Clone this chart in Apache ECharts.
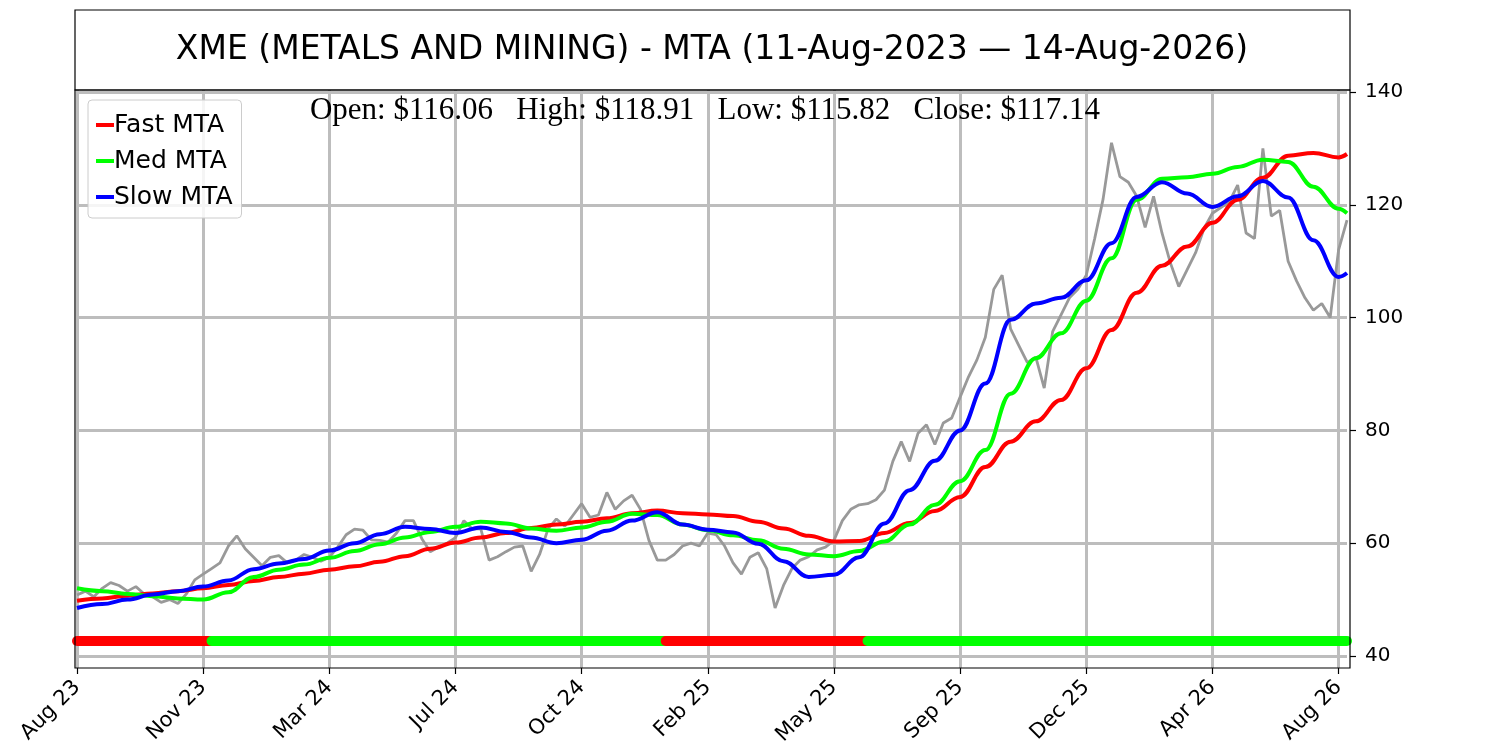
<!DOCTYPE html>
<html lang="en">
  <head>
    <meta charset="UTF-8" />
    <meta name="viewport" content="width=device-width, initial-scale=1.0" />
    <title>XME MTA</title>
    <style>
      html, body { margin: 0; padding: 0; background: #fff; }
      #main { width: 1500px; height: 750px; }
    </style>
  </head>
  <body>
    <div id="main"></div>
    <script src="https://cdn.jsdelivr.net/npm/echarts@6/dist/echarts.min.js"></script>
    <script>
      // weekly price, index 0 = 11-Aug-2023
      var price = [
        50.8, 51.5, 50.5, 52.0, 53.0, 52.5, 51.5, 52.3, 51.0, 50.5, 49.5, 50.0, 49.3, 51.0, 53.5,
        54.5, 55.5, 56.5, 59.5, 61.3, 59.0, 57.5, 56.0, 57.5, 57.8, 56.5, 57.0, 58.0, 57.5, 56.8,
        57.5, 59.3, 61.5, 62.5, 62.3, 60.6, 60.5, 60.2, 61.8, 64.0, 64.0, 60.8, 58.5, 59.3, 60.0,
        61.0, 64.0, 62.5, 62.6, 57.0, 57.6, 58.5, 59.3, 59.5, 55.0, 58.0, 62.5, 64.3, 63.0, 65.0,
        67.0, 64.6, 65.0, 69.0, 66.0, 67.5, 68.5, 66.0, 60.5, 57.0, 57.0, 58.0, 59.5, 60.0, 59.5,
        61.8, 61.5, 59.5, 56.5, 54.5, 57.5, 58.3, 55.5, 48.5, 52.5, 55.5, 57.0, 57.6, 58.8, 59.3,
        60.5, 64.0, 66.0, 66.8, 67.0, 67.7, 69.4, 74.5, 78.0, 74.5, 79.5, 81.0, 77.5, 81.3, 82.2,
        85.9, 89.5, 92.5, 96.5, 105.0, 107.5, 98.0, 95.0, 92.0, 93.0, 87.5, 97.5, 100.5, 103.5, 105.0,
        107.5, 114.0, 121.0, 131.0, 125.0, 124.0, 121.5, 116.0, 121.5, 115.0, 109.7, 105.5, 108.5, 111.5, 115.8,
        118.5, 119.5, 120.5, 123.5, 115.0, 114.0, 130.0, 118.0, 119.0, 110.0, 106.5, 103.5, 101.3, 102.5, 100.0,
        112.0, 117.3
      ];

      var tickLabels = ["Aug 23", "Nov 23", "Mar 24", "Jul 24", "Oct 24", "Feb 25",
                        "May 25", "Sep 25", "Dec 25", "Apr 26", "Aug 26"];
      var tickStep = 15; // weeks between date ticks
      var yTicks = [40, 60, 80, 100, 120, 140];

      // moving averages read every 3 weeks
      var mtaIdx = [0, 3, 6, 9, 12, 15, 18, 21, 24, 27, 30, 33, 36, 39, 42, 45, 48, 51, 54, 57,
                    60, 63, 66, 69, 72, 75, 78, 81, 84, 87, 90, 93, 96, 99, 102, 105, 108, 111, 114, 117,
                    120, 123, 126, 129, 132, 135, 138, 141, 144, 147, 150, 151];
      var fastMta = [49.8, 50.2, 50.7, 51.1, 51.5, 52.0, 52.6, 53.3, 54.0, 54.6, 55.3, 55.9, 56.7, 57.7, 59.0, 60.1, 61.0, 61.8, 62.7, 63.3,
                     63.8, 64.4, 65.3, 65.8, 65.3, 65.1, 64.8, 63.8, 62.6, 61.3, 60.3, 60.4, 61.8, 63.6, 65.7, 68.2, 73.5, 78.0, 81.6, 85.4,
                     91.0, 97.8, 104.4, 109.2, 112.6, 116.8, 120.9, 124.8, 128.7, 129.2, 128.4, 129.0];
      var medMta = [52.0, 51.5, 51.0, 50.6, 50.2, 50.0, 51.3, 54.0, 55.3, 56.2, 57.4, 58.6, 59.8, 61.0, 62.0, 62.9, 63.8, 63.5, 62.6, 62.2,
                    62.8, 63.8, 65.2, 65.0, 63.3, 62.3, 61.4, 60.5, 59.0, 58.0, 57.7, 58.6, 60.3, 63.3, 66.8, 71.0, 76.5, 86.5, 92.8, 97.2,
                    103.0, 110.5, 120.9, 124.6, 124.9, 125.5, 126.7, 128.0, 127.6, 123.2, 119.3, 118.5];
      var slowMta = [48.5, 49.2, 50.0, 50.9, 51.5, 52.3, 53.4, 55.4, 56.4, 57.2, 58.7, 60.0, 61.6, 62.9, 62.5, 61.8, 62.8, 62.0, 61.0, 60.0,
                     60.6, 62.2, 64.0, 65.5, 63.3, 62.4, 61.9, 59.9, 56.8, 54.0, 54.4, 57.5, 63.5, 69.4, 74.6, 80.0, 88.3, 99.6, 102.5, 103.5,
                     106.6, 113.2, 121.4, 124.0, 122.0, 119.6, 121.5, 124.2, 121.3, 113.7, 107.2, 107.9];

      // trend signal strip: [start week, end week, state]
      var signalLevel = 42.66;
      var signalRuns = [[0, 16, "down"], [16, 70, "up"], [70, 94, "down"], [94, 151, "up"]];

      var weeks = price.map(function (v, i) { return i; });
      function pairs(vals) {
        return vals.map(function (v, i) { return [mtaIdx[i], v]; });
      }

      var myChart = echarts.init(document.getElementById("main"), null, { renderer: "canvas" });

      var font = "DejaVu Sans";
      var gridColor = "#bdbdbd";

      var series = [
        {
          name: "Price",
          type: "line",
          data: price,
          symbol: "none",
          lineStyle: { color: "#999999", width: 2.8 },
          itemStyle: { color: "#999999" },
          z: 2,
          silent: true
        }
      ];

      [["Fast MTA", fastMta, "#ff0000"], ["Med MTA", medMta, "#00ff00"], ["Slow MTA", slowMta, "#0000ff"]].forEach(function (s) {
        series.push({
          name: s[0],
          type: "line",
          data: pairs(s[1]),
          symbol: "none",
          smooth: 0.4,
          smoothMonotone: "x",
          lineStyle: { color: s[2], width: 4 },
          itemStyle: { color: s[2] },
          z: 3
        });
      });

      signalRuns.forEach(function (r) {
        var c = r[2] === "up" ? "#00ff00" : "#ff0000";
        series.push({
          name: "signal",
          type: "line",
          data: [[r[0], signalLevel], [r[1], signalLevel]],
          symbol: "none",
          lineStyle: { color: c, width: 10, cap: "round" },
          itemStyle: { color: c },
          z: 4,
          silent: true
        });
      });

      var option = {
        animation: false,
        textStyle: { fontFamily: font, color: "#000" },
        grid: {
          left: 77,
          right: 153,
          top: 90,
          bottom: 82,
          containLabel: false,
          outerBoundsMode: "none"
        },
        legend: {
          data: ["Fast MTA", "Med MTA", "Slow MTA"],
          orient: "vertical",
          left: 88,
          top: 100,
          icon: "rect",
          itemWidth: 18,
          itemHeight: 4,
          itemGap: 10,
          padding: [12, 9, 8, 8],
          backgroundColor: "rgba(255,255,255,0.85)",
          borderColor: "#cccccc",
          borderWidth: 1,
          borderRadius: 4,
          textStyle: { fontFamily: font, fontSize: 25, color: "#000", lineHeight: 26, padding: [0, 0, 0, -5] }
        },
        xAxis: {
          type: "category",
          data: weeks,
          boundaryGap: false,
          axisLine: { show: false },
          axisTick: { show: true, interval: tickStep - 1, length: 6, lineStyle: { color: "#000", width: 1.2 } },
          axisLabel: {
            interval: tickStep - 1,
            rotate: 45,
            margin: 16,
            fontSize: 21,
            fontFamily: font,
            color: "#000",
            formatter: function (v, i) { return tickLabels[i / tickStep]; }
          },
          splitLine: { show: true, interval: tickStep - 1, lineStyle: { color: gridColor, width: 3 } }
        },
        yAxis: {
          type: "value",
          position: "right",
          min: 37.87,
          max: 140.35,
          offset: 3,
          axisLine: { show: false },
          axisTick: { show: true, length: 6, customValues: yTicks, lineStyle: { color: "#000", width: 1.2 } },
          axisLabel: { customValues: yTicks, margin: 15, fontSize: 20, fontFamily: font, color: "#000" },
          splitLine: { show: true, lineStyle: { color: gridColor, width: 3 } }
        },
        graphic: [
          {
            type: "rect",
            shape: { x: 75, y: 10, width: 1275, height: 80 },
            style: { fill: "#fff", stroke: "#000", lineWidth: 1.2 },
            z: 100
          },
          {
            type: "text",
            x: 712,
            y: 50,
            style: {
              text: "XME (METALS AND MINING) - MTA (11-Aug-2023 \u2014 14-Aug-2026)",
              font: '33px "DejaVu Sans"',
              fill: "#000",
              align: "center",
              verticalAlign: "middle"
            },
            z: 101
          },
          {
            type: "text",
            x: 705,
            y: 111,
            style: {
              text: "Open: $116.06   High: $118.91   Low: $115.82   Close: $117.14",
              font: '31px "Liberation Serif"',
              fill: "#000",
              align: "center",
              verticalAlign: "middle"
            },
            z: 101
          },
          {
            type: "rect",
            shape: { x: 75, y: 90, width: 1275, height: 578 },
            style: { fill: null, stroke: "#000", lineWidth: 1.2 },
            z: 101
          }
        ],
        series: series
      };

      myChart.setOption(option);
    </script>
  </body>
</html>
